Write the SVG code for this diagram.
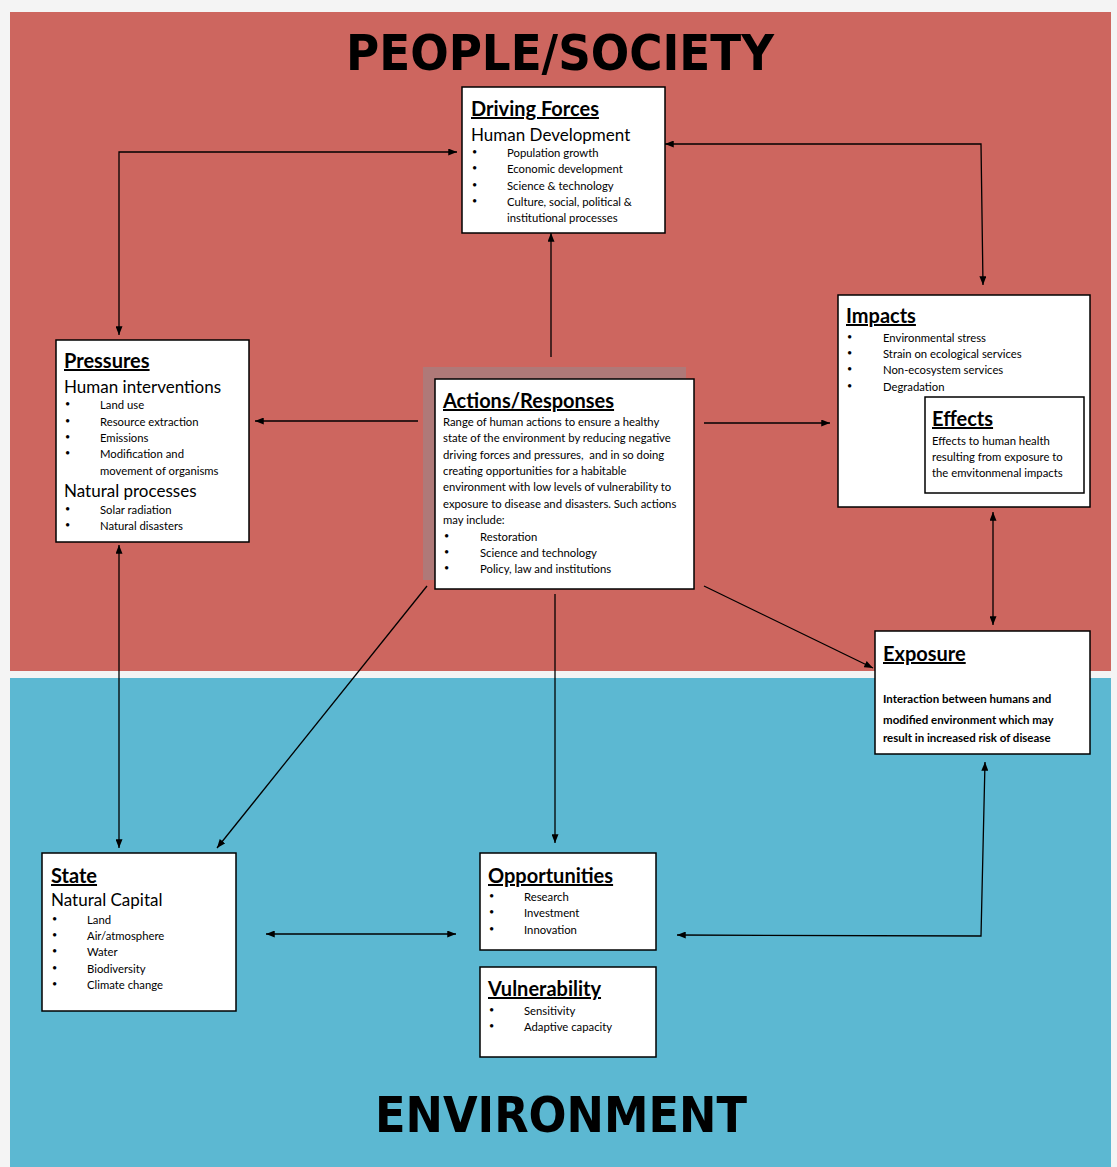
<svg xmlns="http://www.w3.org/2000/svg" width="1117" height="1167" viewBox="0 0 1117 1167">
<defs>
<marker id="ah" viewBox="0 0 10 8" refX="10" refY="4" markerWidth="9" markerHeight="7" markerUnits="userSpaceOnUse" orient="auto-start-reverse">
<path d="M0,0 L10,4 L0,8 z" fill="#000"/>
</marker>
<style>
.box{fill:#fff;stroke:#000;stroke-width:1.5}
.t{font-family:Lato,"Liberation Sans",sans-serif;fill:#000}
.h{font-size:20px;font-weight:bold;text-decoration:underline}
.s{font-size:17px}
.i{font-size:11.3px}
.b{font-size:9px}
.eb{font-size:11.5px;font-weight:bold}
.big{font-family:"DejaVu Sans Condensed","Liberation Sans Narrow","Liberation Sans",sans-serif;font-weight:bold;font-size:50px;fill:#000}
.c{fill:none;stroke:#000;stroke-width:1.3}
</style>
</defs>
<rect x="0" y="0" width="1117" height="1167" fill="#f4f4f4"/>
<rect x="10" y="12" width="1101" height="659" fill="#CD665F"/>
<rect x="10" y="678" width="1101" height="489" fill="#5CB8D2"/>
<text class="big" x="560" y="70" text-anchor="middle" textLength="428" lengthAdjust="spacingAndGlyphs">PEOPLE/SOCIETY</text>
<text class="big" x="561" y="1132" text-anchor="middle" textLength="372" lengthAdjust="spacingAndGlyphs">ENVIRONMENT</text>

<g id="connectors">
<polyline class="c" points="119,335 119,152 457,152" marker-start="url(#ah)" marker-end="url(#ah)"/>
<polyline class="c" points="665,144 981,144 983,285" marker-start="url(#ah)" marker-end="url(#ah)"/>
<line class="c" x1="551" y1="357" x2="551" y2="233" marker-end="url(#ah)"/>
<line class="c" x1="418" y1="421" x2="255" y2="421" marker-end="url(#ah)"/>
<line class="c" x1="704" y1="423" x2="830" y2="423" marker-end="url(#ah)"/>
<line class="c" x1="993" y1="512" x2="993" y2="625" marker-start="url(#ah)" marker-end="url(#ah)"/>
<line class="c" x1="704" y1="586" x2="873" y2="668" marker-end="url(#ah)"/>
<line class="c" x1="427" y1="586" x2="217" y2="848" marker-end="url(#ah)"/>
<line class="c" x1="555" y1="594" x2="555" y2="843" marker-end="url(#ah)"/>
<line class="c" x1="119" y1="545" x2="119" y2="848" marker-start="url(#ah)" marker-end="url(#ah)"/>
<line class="c" x1="266" y1="934" x2="456" y2="934" marker-start="url(#ah)" marker-end="url(#ah)"/>
<polyline class="c" points="985,762 981,936 677,935" marker-start="url(#ah)" marker-end="url(#ah)"/>
</g>

<g id="driving-forces">
<rect class="box" x="462" y="87" width="203" height="146"/>
<text class="t h" x="471" y="116">Driving Forces</text>
<text class="t s" x="471" y="141">Human Development</text>
<g class="t b">
<text x="472" y="155">•</text><text x="472" y="171">•</text><text x="472" y="188">•</text><text x="472" y="204">•</text>
</g>
<g class="t i">
<text x="507" y="157">Population growth</text>
<text x="507" y="173">Economic development</text>
<text x="507" y="190">Science &amp; technology</text>
<text x="507" y="206">Culture, social, political &amp;</text>
<text x="507" y="222">institutional processes</text>
</g>
</g>

<g id="pressures">
<rect class="box" x="56" y="340" width="193" height="202"/>
<text class="t h" x="64" y="368">Pressures</text>
<text class="t s" x="64" y="393">Human interventions</text>
<text class="t s" x="64" y="497">Natural processes</text>
<g class="t b">
<text x="65" y="407">•</text><text x="65" y="424">•</text><text x="65" y="440">•</text><text x="65" y="456">•</text>
<text x="65" y="512">•</text><text x="65" y="528">•</text>
</g>
<g class="t i">
<text x="100" y="409">Land use</text>
<text x="100" y="426">Resource extraction</text>
<text x="100" y="442">Emissions</text>
<text x="100" y="458">Modification and</text>
<text x="100" y="475">movement of organisms</text>
<text x="100" y="514">Solar radiation</text>
<text x="100" y="530">Natural disasters</text>
</g>
</g>

<g id="actions-responses">
<rect x="423" y="367" width="263" height="213" fill="#A87E7E" opacity="0.8"/>
<rect class="box" x="435" y="379" width="259" height="210"/>
<text class="t h" x="443" y="408">Actions/Responses</text>
<g class="t i">
<text x="443" y="426">Range of human actions to ensure a healthy</text>
<text x="443" y="442">state of the environment by reducing negative</text>
<text x="443" y="459" xml:space="preserve">driving forces and pressures,  and in so doing</text>
<text x="443" y="475">creating opportunities for a habitable</text>
<text x="443" y="491">environment with low levels of vulnerability to</text>
<text x="443" y="508">exposure to disease and disasters. Such actions</text>
<text x="443" y="524">may include:</text>
<text x="480" y="541">Restoration</text>
<text x="480" y="557">Science and technology</text>
<text x="480" y="573">Policy, law and institutions</text>
</g>
<g class="t b">
<text x="444" y="539">•</text><text x="444" y="555">•</text><text x="444" y="571">•</text>
</g>
</g>

<g id="impacts">
<rect class="box" x="838" y="295" width="252" height="212"/>
<text class="t h" x="846" y="323">Impacts</text>
<g class="t b">
<text x="847" y="340">•</text><text x="847" y="356">•</text><text x="847" y="372">•</text><text x="847" y="389">•</text>
</g>
<g class="t i">
<text x="883" y="342">Environmental stress</text>
<text x="883" y="358">Strain on ecological services</text>
<text x="883" y="374">Non-ecosystem services</text>
<text x="883" y="391">Degradation</text>
</g>
</g>

<g id="effects">
<rect class="box" x="925" y="397" width="159" height="96"/>
<text class="t h" x="932" y="426">Effects</text>
<g class="t i">
<text x="932" y="445">Effects to human health</text>
<text x="932" y="461">resulting from exposure to</text>
<text x="932" y="477">the emvitonmenal impacts</text>
</g>
</g>

<g id="exposure">
<rect class="box" x="875" y="631" width="215" height="123"/>
<text class="t h" x="883" y="661">Exposure</text>
<g class="t eb">
<text x="883" y="703">Interaction between humans and</text>
<text x="883" y="724">modified environment which may</text>
<text x="883" y="742">result in increased risk of disease</text>
</g>
</g>

<g id="state">
<rect class="box" x="42" y="853" width="194" height="158"/>
<text class="t h" x="51" y="883">State</text>
<text class="t s" x="51" y="906">Natural Capital</text>
<g class="t b">
<text x="52" y="922">•</text><text x="52" y="938">•</text><text x="52" y="954">•</text><text x="52" y="971">•</text><text x="52" y="987">•</text>
</g>
<g class="t i">
<text x="87" y="924">Land</text>
<text x="87" y="940">Air/atmosphere</text>
<text x="87" y="956">Water</text>
<text x="87" y="973">Biodiversity</text>
<text x="87" y="989">Climate change</text>
</g>
</g>

<g id="opportunities">
<rect class="box" x="480" y="853" width="176" height="97"/>
<text class="t h" x="488" y="883">Opportunities</text>
<g class="t b">
<text x="489" y="899">•</text><text x="489" y="915">•</text><text x="489" y="932">•</text>
</g>
<g class="t i">
<text x="524" y="901">Research</text>
<text x="524" y="917">Investment</text>
<text x="524" y="934">Innovation</text>
</g>
</g>

<g id="vulnerability">
<rect class="box" x="480" y="967" width="176" height="90"/>
<text class="t h" x="488" y="996">Vulnerability</text>
<g class="t b">
<text x="489" y="1013">•</text><text x="489" y="1029">•</text>
</g>
<g class="t i">
<text x="524" y="1015">Sensitivity</text>
<text x="524" y="1031">Adaptive capacity</text>
</g>
</g>
</svg>
